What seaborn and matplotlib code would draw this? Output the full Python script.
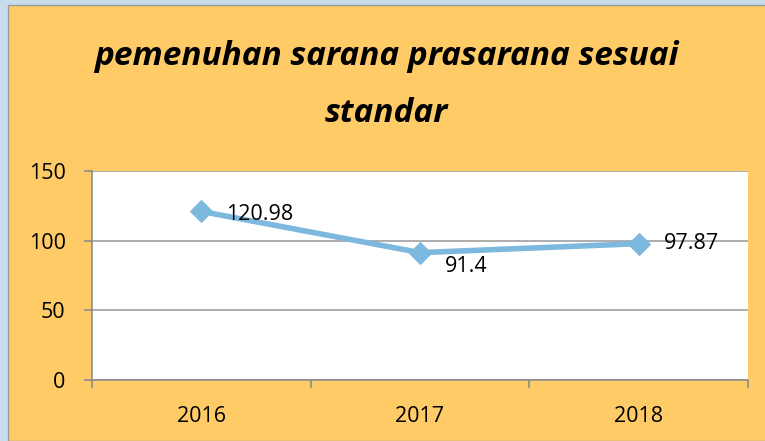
import matplotlib
matplotlib.use('Agg')
import matplotlib.pyplot as plt
from matplotlib.patches import Rectangle
import seaborn as sns
import pandas as pd

# data
years = ['2016', '2017', '2018']
values = [120.98, 91.4, 97.87]
title = 'pemenuhan sarana prasarana sesuai\nstandar'

sns.set_style('white')
plt.rcParams['font.family'] = ['Open Sans', 'DejaVu Sans']

df = pd.DataFrame({'year': years, 'value': values})

fig = plt.figure(figsize=(7.65, 4.41), dpi=100)
fig.patch.set_facecolor('#C9DCEB')
# orange chart panel, behind the axes
fig.patches.append(Rectangle((8/765, 0), 1, 1 - 5/441, transform=fig.transFigure,
                             facecolor='#FECB66', edgecolor='#9A9A9A', linewidth=1.0, zorder=-5))

ax = fig.add_axes([92/765, 1 - 380/441, 656/765, 209/441])
ax.set_facecolor('white')

sns.lineplot(data=df, x='year', y='value', ax=ax, color='#7DB8DE', linewidth=4,
             marker='D', markersize=11, markeredgecolor='#7DB8DE', sort=False, zorder=3)

# value labels (right of each point)
dy = [-2, -10, 0]
for i, v in enumerate(values):
    ax.annotate(f'{v:g}', (i, v), xytext=(18, dy[i]), textcoords='offset points',
                ha='left', va='center', fontsize=15.5, color='black', zorder=4)

ax.set_xlim(-0.5, 2.5)
ax.set_ylim(0, 150)
ax.set_yticks([0, 50, 100, 150])
ax.set_xticks([0, 1, 2])
ax.set_xticks([-0.5, 0.5, 1.5, 2.5], minor=True)
ax.grid(axis='y', color='#A0A0A0', linewidth=1.2)
ax.set_axisbelow(True)
ax.set_xlabel('')
ax.set_ylabel('')

for s in ['top', 'right']:
    ax.spines[s].set_visible(False)
for s in ['left', 'bottom']:
    ax.spines[s].set_color('#8C8C8C')
    ax.spines[s].set_linewidth(1.2)

ax.tick_params(axis='y', which='major', left=True, length=6, color='#8C8C8C', width=1.2,
               labelsize=15.5, pad=13, labelcolor='black')
ax.tick_params(axis='x', which='major', bottom=False, labelsize=15.5, pad=15, labelcolor='black')
ax.tick_params(axis='x', which='minor', bottom=True, length=6, color='#8C8C8C', width=1.2)

fig.text(0.5 + 4/765, 1 - 85/441, title, ha='center', va='center', fontsize=24,
         fontstyle='italic', fontweight='bold', linespacing=1.95, color='black')

fig.savefig('out.png', dpi=100, facecolor=fig.get_facecolor())
